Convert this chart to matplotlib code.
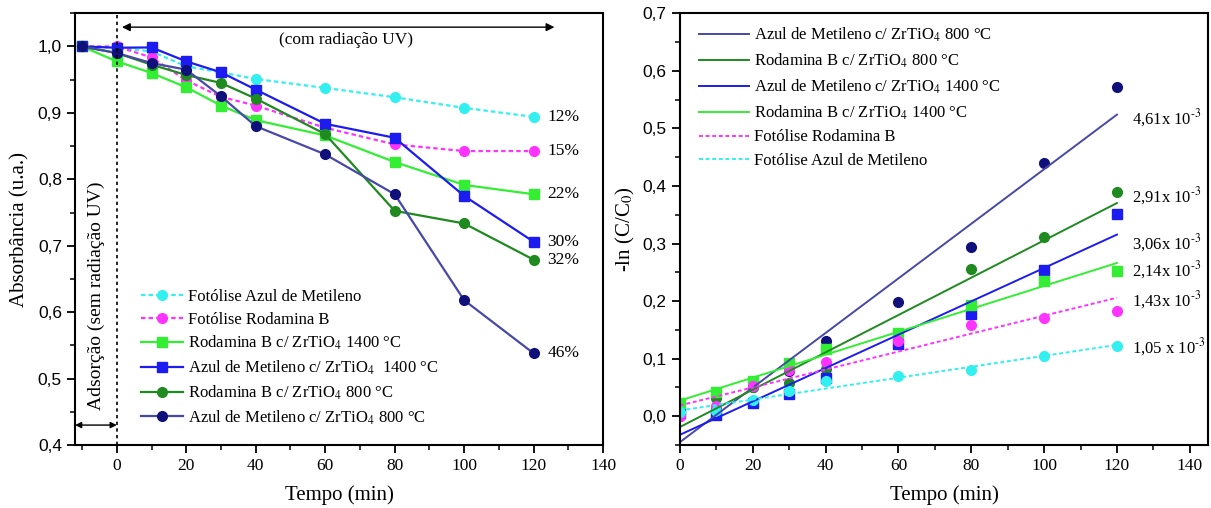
import numpy as np
import matplotlib
matplotlib.use('Agg')
import matplotlib.pyplot as plt
from matplotlib.ticker import MultipleLocator, FuncFormatter

plt.rcParams['font.family'] = ['Liberation Serif', 'DejaVu Serif']
plt.rcParams['mathtext.fontset'] = 'stix'

# ---- dados: absorbância (painel esquerdo)
t_abs = [-10, 0, 10, 20, 30, 40, 60, 80, 100, 120]
fot_am = [1.0, 0.998, 0.9925, 0.970, 0.961, 0.951, 0.9375, 0.9235, 0.9075, 0.894]
fot_rb = [1.0, 1.0, 0.9835, 0.949, 0.924, 0.911, 0.8775, 0.8525, 0.8425, 0.8425]
rb_1400 = [1.0, 0.9775, 0.960, 0.9385, 0.911, 0.889, 0.866, 0.826, 0.7915, 0.7775]
am_1400 = [1.0, 0.998, 0.9985, 0.9775, 0.961, 0.935, 0.8835, 0.8625, 0.775, 0.706]
rb_800 = [1.0, 0.99, 0.9725, 0.957, 0.945, 0.9215, 0.868, 0.7525, 0.7335, 0.679]
am_800 = [1.0, 0.99, 0.975, 0.965, 0.925, 0.880, 0.8375, 0.7775, 0.618, 0.538]
pct = ['12%', '15%', '22%', '30%', '32%', '46%']

# ---- dados: -ln(C/C0) (painel direito)
t_k = [0, 10, 20, 30, 40, 60, 80, 100, 120]
k_am_800 = [0.0, 0.015, 0.050, 0.078, 0.130, 0.198, 0.294, 0.440, 0.571]
k_rb_800 = [0.010, 0.032, 0.051, 0.058, 0.082, 0.135, 0.255, 0.311, 0.389]
k_am_1400 = [0.005, 0.002, 0.023, 0.039, 0.066, 0.125, 0.178, 0.254, 0.351]
k_rb_1400 = [0.023, 0.042, 0.062, 0.092, 0.117, 0.145, 0.193, 0.234, 0.253]
k_fot_rb = [0.0, 0.017, 0.052, 0.080, 0.094, 0.131, 0.158, 0.171, 0.183]
k_fot_am = [0.008, 0.009, 0.028, 0.043, 0.062, 0.0705, 0.080, 0.104, 0.122]
k_labels = ['4,61x 10$^{\\text{-3}}$', '2,91x 10$^{\\text{-3}}$',
            '3,06x 10$^{\\text{-3}}$', '2,14x 10$^{\\text{-3}}$',
            '1,43x 10$^{\\text{-3}}$', '1,05 x 10$^{\\text{-3}}$']
k_label_y = [0.518, 0.383, 0.300, 0.253, 0.201, 0.120]

c_navy = '#10107a'
c_navy_l = '#4848a8'
c_dgreen = '#1f8a1f'
c_blue = '#1c1cf0'
c_lgreen = '#33ee33'
c_pink = '#ff33ff'
c_cyan = '#33f0f0'
dots = (0, (2, 1.4))

fig = plt.figure(figsize=(12.11, 5.08), dpi=100)
ax1 = fig.add_axes([0.062, 0.124, 0.436, 0.850])
ax2 = fig.add_axes([0.5615, 0.124, 0.436, 0.850])

comma = FuncFormatter(lambda v, p: ('%.1f' % v).replace('.', ','))
intf = FuncFormatter(lambda v, p: '%d' % round(v))

# ---------------- painel esquerdo
series = [
    (fot_am, c_cyan, c_cyan, 'o', dots, 'Fotólise Azul de Metileno'),
    (fot_rb, c_pink, c_pink, 'o', dots, 'Fotólise Rodamina B'),
    (rb_1400, c_lgreen, c_lgreen, 's', '-', 'Rodamina B c/ ZrTiO$_4$ 1400 °C'),
    (am_1400, c_blue, c_blue, 's', '-', 'Azul de Metileno c/ ZrTiO$_4$  1400 °C'),
    (rb_800, c_dgreen, c_dgreen, 'o', '-', 'Rodamina B c/ ZrTiO$_4$ 800 °C'),
    (am_800, c_navy_l, c_navy, 'o', '-', 'Azul de Metileno c/ ZrTiO$_4$ 800 °C'),
]
for (y, lc, mc, mk, ls, lab), p in zip(series, pct):
    ax1.plot(t_abs, y, color=lc, linestyle=ls, linewidth=1.6, marker=mk,
             markersize=7, markerfacecolor=mc, markeredgecolor=mc, label=lab)
    ax1.text(124, y[-1], p, fontsize=12.5, va='center', ha='left')

ax1.set_xlim(-12, 140)
ax1.set_ylim(0.4, 1.05)
ax1.axvline(0, color='black', linestyle=(0, (2, 2)), linewidth=1.2)
ax1.annotate('', xy=(126, 1.029), xytext=(1.5, 1.029),
             arrowprops=dict(arrowstyle='<|-|>', color='black', lw=1.0,
                             mutation_scale=12, shrinkA=0, shrinkB=0))
ax1.text(66, 1.010, '(com radiação UV)', fontsize=12.5, ha='center', va='center')
ax1.annotate('', xy=(0, 0.43), xytext=(-12, 0.43),
             arrowprops=dict(arrowstyle='<|-|>', color='black', lw=1.0,
                             mutation_scale=9, shrinkA=0, shrinkB=0))
ax1.text(-6, 0.625, 'Adsorção (sem radiação UV)', fontsize=14, rotation=90,
         ha='center', va='center')

ax1.set_xlabel('Tempo (min)', fontsize=15, labelpad=8)
ax1.set_ylabel('Absorbância (u.a.)', fontsize=15, labelpad=6)
ax1.xaxis.set_major_locator(MultipleLocator(20))
ax1.xaxis.set_minor_locator(MultipleLocator(10))
ax1.yaxis.set_major_locator(MultipleLocator(0.1))
ax1.yaxis.set_minor_locator(MultipleLocator(0.05))
ax1.yaxis.set_major_formatter(comma)
ax1.xaxis.set_major_formatter(intf)
ax1.legend(loc='upper left', bbox_to_anchor=(0.11, 0.38), frameon=False,
           fontsize=12, handlelength=2.5, handletextpad=0.3, labelspacing=0.38,
           borderpad=0)

# ---------------- painel direito
kseries = [
    (k_am_800, c_navy_l, c_navy, 'o', '-', 'Azul de Metileno c/ ZrTiO$_4$ 800 °C'),
    (k_rb_800, c_dgreen, c_dgreen, 'o', '-', 'Rodamina B c/ ZrTiO$_4$ 800 °C'),
    (k_am_1400, c_blue, c_blue, 's', '-', 'Azul de Metileno c/ ZrTiO$_4$ 1400 °C'),
    (k_rb_1400, c_lgreen, c_lgreen, 's', '-', 'Rodamina B c/ ZrTiO$_4$ 1400 °C'),
    (k_fot_rb, c_pink, c_pink, 'o', dots, 'Fotólise Rodamina B'),
    (k_fot_am, c_cyan, c_cyan, 'o', dots, 'Fotólise Azul de Metileno'),
]
tk = np.array(t_k, dtype=float)
for (y, lc, mc, mk, ls, lab) in kseries:
    ax2.plot(t_k, y, linestyle='none', marker=mk, markersize=7,
             markerfacecolor=mc, markeredgecolor=mc)
for (y, lc, mc, mk, ls, lab) in kseries:
    a, b = np.polyfit(tk, np.array(y), 1)
    xs = np.array([tk.min(), tk.max()])
    ax2.plot(xs, a * xs + b, color=lc, linestyle=ls, linewidth=1.4, label=lab)
for lab, ly in zip(k_labels, k_label_y):
    ax2.text(124, ly, lab, fontsize=12, ha='left', va='center')

ax2.set_xlim(0, 145)
ax2.set_ylim(-0.05, 0.7)
ax2.set_xlabel('Tempo (min)', fontsize=15, labelpad=8)
ax2.set_ylabel('-ln (C/C$_0$)', fontsize=15, labelpad=4)
ax2.xaxis.set_major_locator(MultipleLocator(20))
ax2.xaxis.set_minor_locator(MultipleLocator(10))
ax2.yaxis.set_major_locator(MultipleLocator(0.1))
ax2.yaxis.set_minor_locator(MultipleLocator(0.05))
ax2.yaxis.set_major_formatter(comma)
ax2.xaxis.set_major_formatter(intf)
ax2.legend(loc='upper left', bbox_to_anchor=(0.02, 0.99), frameon=False,
           fontsize=12, handlelength=3.0, handletextpad=0.3, labelspacing=0.45,
           borderpad=0)

for ax in (ax1, ax2):
    for s in ax.spines.values():
        s.set_linewidth(1.5)
    ax.tick_params(which='major', direction='out', length=6, width=1.3,
                   top=False, right=False)
    ax.tick_params(which='minor', direction='out', length=3.5, width=1.1,
                   top=False, right=False)
    ax.tick_params(axis='x', labelsize=12.5)
    for lb in ax.get_yticklabels():
        lb.set_family(['Liberation Sans', 'DejaVu Sans'])
        lb.set_fontsize(12.5)

fig.savefig('out.png', dpi=100)
